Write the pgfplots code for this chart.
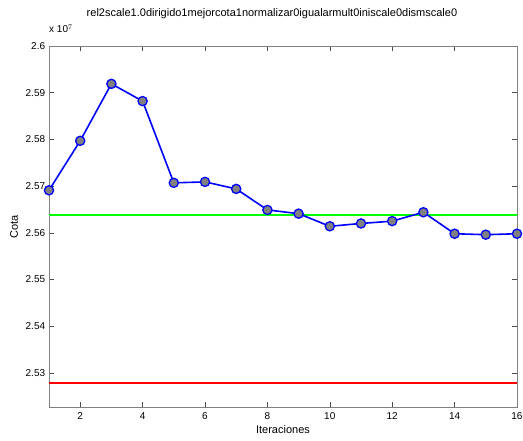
\documentclass[border=0pt]{standalone}
\usepackage{fontspec}
\setmainfont{Liberation Sans}
\usepackage{pgfplots}
\pgfplotsset{compat=1.18}
\definecolor{mblue}{RGB}{0,0,255}
\definecolor{mgreen}{RGB}{0,255,0}
\definecolor{mred}{RGB}{255,0,0}
\begin{document}
\fontsize{11pt}{13pt}\selectfont
\begin{tikzpicture}
\begin{axis}[
  scale only axis, width=468pt, height=361pt,
  xmin=1, xmax=16, ymin=2.5227e7, ymax=2.6e7,
  xtick={2,4,6,8,10,12,14,16},
  ytick={2.53e7,2.54e7,2.55e7,2.56e7,2.57e7,2.58e7,2.59e7,2.6e7},
  scaled y ticks=base 10:-7,
  ytick scale label code/.code={x 10$^{7}$},
  every y tick scale label/.style={at={(rel axis cs:0,1)}, anchor=south west, xshift=0pt, yshift=13pt, inner sep=0pt, font=\fontsize{10pt}{12pt}\selectfont},
  /pgf/number format/assume math mode=true,
  tick align=inside, major tick length=5pt,
  axis line style={black!50, line width=0.9pt},
  every tick/.style={black!70, line width=0.5pt},
  tick label style={font=\fontsize{10pt}{12pt}\selectfont},
  xticklabel style={yshift=-2pt},
  yticklabel style={xshift=0pt},
  title={rel2scale1.0dirigido1mejorcota1normalizar0igualarmult0iniscale0dismscale0},
  every axis title/.style={at={(rel axis cs:0.5,1)}, anchor=center, yshift=32pt, xshift=-11pt},
  xlabel={Iteraciones}, ylabel={Cota},
  label style={font=\fontsize{10.5pt}{12pt}\selectfont},
  every axis x label/.style={at={(rel axis cs:0.5,0)}, anchor=center, yshift=-23pt},
  every axis y label/.style={at={(rel axis cs:0,0.5)}, anchor=center, xshift=-35pt, rotate=90},
  clip=false,
]
\addplot[mgreen, line width=1.6pt] coordinates {(1,2.5638e7) (16,2.5638e7)};
\addplot[mred, line width=1.6pt] coordinates {(1,2.5279e7) (16,2.5279e7)};
\addplot[mblue, line width=1.6pt, mark=*, mark size=4.6pt,
  mark options={fill=black!50, draw=mblue, line width=1.3pt}] coordinates {
  (1,2.5691e7) (2,2.5797e7) (3,2.5919e7) (4,2.5882e7) (5,2.5707e7)
  (6,2.5709e7) (7,2.5694e7) (8,2.5649e7) (9,2.5641e7) (10,2.5614e7)
  (11,2.5620e7) (12,2.5625e7) (13,2.5644e7) (14,2.5598e7) (15,2.5596e7)
  (16,2.5598e7)};
\coordinate (sw) at (rel axis cs:0,0);
\coordinate (ne) at (rel axis cs:1,1);
\end{axis}
\pgfresetboundingbox
\path[use as bounding box] ([shift={(-49pt,-33pt)}]sw) rectangle ([shift={(6pt,46pt)}]ne);
\end{tikzpicture}
\end{document}
